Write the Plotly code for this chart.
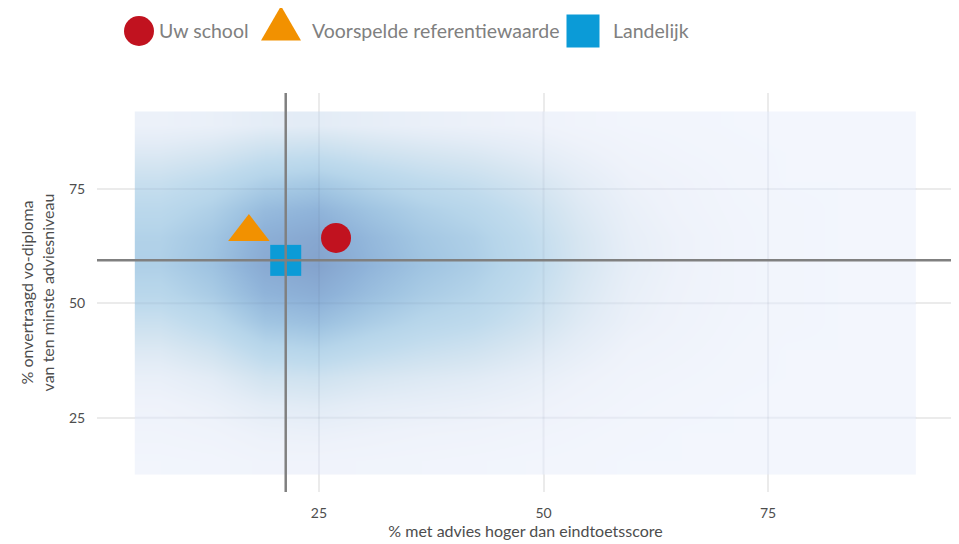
import plotly.graph_objects as go

# ---- data ----
school_x = [26.9]
school_y = [64.3]
pred_x = [17.2]
pred_y = [65.6]
land_x = [21.3]
land_y = [59.4]

# density grid (cell centres)
dens_x = [7.4, 13.2, 19.0, 24.8, 30.6, 36.4, 42.2, 48.0, 53.8, 59.6, 65.4, 71.2, 77.0, 82.8, 88.6]
dens_y = [15.6, 21.7, 27.8, 33.9, 40.0, 46.1, 52.2, 58.3, 64.5, 70.6, 76.7, 82.8, 88.9]
dens_z = [
    [0.03, 0.04, 0.07, 0.07, 0.06, 0.05, 0.04, 0.03, 0.02, 0.01, 0.01, 0.0, 0.0, 0.0, 0.0],
    [0.06, 0.08, 0.12, 0.13, 0.11, 0.09, 0.08, 0.06, 0.04, 0.02, 0.01, 0.01, 0.0, 0.0, 0.0],
    [0.09, 0.13, 0.20, 0.22, 0.18, 0.16, 0.14, 0.11, 0.07, 0.04, 0.02, 0.01, 0.0, 0.0, 0.0],
    [0.15, 0.21, 0.33, 0.35, 0.29, 0.25, 0.22, 0.17, 0.11, 0.06, 0.04, 0.02, 0.01, 0.0, 0.0],
    [0.25, 0.34, 0.51, 0.55, 0.46, 0.39, 0.34, 0.26, 0.17, 0.09, 0.06, 0.03, 0.01, 0.01, 0.0],
    [0.38, 0.50, 0.70, 0.75, 0.63, 0.53, 0.47, 0.36, 0.23, 0.13, 0.08, 0.04, 0.02, 0.01, 0.0],
    [0.52, 0.64, 0.84, 0.90, 0.76, 0.64, 0.56, 0.43, 0.27, 0.15, 0.09, 0.05, 0.02, 0.01, 0.0],
    [0.60, 0.72, 0.93, 1.00, 0.84, 0.71, 0.62, 0.48, 0.30, 0.17, 0.10, 0.05, 0.02, 0.01, 0.0],
    [0.58, 0.69, 0.89, 0.96, 0.81, 0.68, 0.60, 0.46, 0.29, 0.16, 0.10, 0.05, 0.02, 0.01, 0.0],
    [0.50, 0.60, 0.78, 0.84, 0.71, 0.60, 0.52, 0.40, 0.25, 0.14, 0.08, 0.04, 0.02, 0.01, 0.0],
    [0.39, 0.47, 0.60, 0.65, 0.55, 0.46, 0.40, 0.31, 0.20, 0.11, 0.07, 0.03, 0.01, 0.01, 0.0],
    [0.25, 0.30, 0.39, 0.42, 0.35, 0.30, 0.26, 0.20, 0.13, 0.07, 0.04, 0.02, 0.01, 0.0, 0.0],
    [0.12, 0.14, 0.19, 0.20, 0.17, 0.14, 0.12, 0.10, 0.06, 0.03, 0.02, 0.01, 0.0, 0.0, 0.0],
]

tick_vals = [25, 50, 75]
legend_labels = ["Uw school", "Voorspelde referentiewaarde", "Landelijk"]
x_title = "% met advies hoger dan eindtoetsscore"
y_title = "% onvertraagd vo-diploma<br>van ten minste adviesniveau"

RED = "#c1121f"
ORANGE = "#f29100"
BLUE = "#0b9bd7"
FONT = "Lato"

colorscale = [
    [0.0, "#f3f6fd"], [0.1, "#eef2fa"], [0.2, "#e3ecf6"], [0.3, "#d5e5f1"],
    [0.45, "#c0dbed"], [0.55, "#b6d5ea"], [0.7, "#a1c5e2"], [0.85, "#8fb3d9"],
    [1.0, "#84a3cd"],
]

fig = go.Figure()
fig.add_trace(go.Heatmap(x=dens_x, y=dens_y, z=dens_z, colorscale=colorscale,
                         zmin=0, zmax=1, zsmooth="best", showscale=False,
                         hoverinfo="skip"))
fig.add_trace(go.Scatter(x=school_x, y=school_y, mode="markers", showlegend=False,
                         marker=dict(symbol="circle", size=30, color=RED), name=legend_labels[0]))
fig.add_trace(go.Scatter(x=pred_x, y=pred_y, mode="markers", showlegend=False,
                         marker=dict(symbol="triangle-up", size=36, color=ORANGE), name=legend_labels[1]))
fig.add_trace(go.Scatter(x=land_x, y=land_y, mode="markers", showlegend=False,
                         marker=dict(symbol="square", size=31, color=BLUE), name=legend_labels[2]))

# heatmap extent derived from grid
hx0 = dens_x[0] - (dens_x[1] - dens_x[0]) / 2
hx1 = dens_x[-1] + (dens_x[1] - dens_x[0]) / 2
hy0 = dens_y[0] - (dens_y[1] - dens_y[0]) / 2
hy1 = dens_y[-1] + (dens_y[1] - dens_y[0]) / 2

shapes = []
# faint gridlines seen through the density
for t in tick_vals:
    shapes.append(dict(type="line", xref="x", yref="y", x0=t, x1=t, y0=hy0, y1=hy1,
                       line=dict(color="rgba(90,100,130,0.07)", width=2), layer="above"))
    shapes.append(dict(type="line", xref="x", yref="y", x0=hx0, x1=hx1, y0=t, y1=t,
                       line=dict(color="rgba(90,100,130,0.07)", width=2), layer="above"))

shapes += [
    dict(type="line", xref="x", yref="paper", x0=land_x[0], x1=land_x[0], y0=0, y1=1,
         line=dict(color="#808080", width=2.5), layer="above"),
    dict(type="line", xref="paper", yref="y", x0=0, x1=1, y0=land_y[0], y1=land_y[0],
         line=dict(color="#808080", width=2.5), layer="above"),
]

# custom legend (page pixel geometry -> paper coords)
L, R, T, B = 97, 954, 93, 492
def px(xp):
    return (xp - L) / (R - L)
def py(yp):
    return (B - yp) / (B - T)

shapes.append(dict(type="circle", xref="paper", yref="paper", xsizemode="pixel", ysizemode="pixel",
                   xanchor=px(139), yanchor=py(31), x0=-15, x1=15, y0=-15, y1=15,
                   fillcolor=RED, line=dict(width=0)))
shapes.append(dict(type="path", xref="paper", yref="paper", xsizemode="pixel", ysizemode="pixel",
                   xanchor=px(281), yanchor=py(29), path="M-20,-11.5 L20,-11.5 L0,23 Z",
                   fillcolor=ORANGE, line=dict(width=0)))
shapes.append(dict(type="rect", xref="paper", yref="paper", xsizemode="pixel", ysizemode="pixel",
                   xanchor=px(583), yanchor=py(31), x0=-16.5, x1=16.5, y0=-16.5, y1=16.5,
                   fillcolor=BLUE, line=dict(width=0)))

annotations = []
for lab, xl in zip(legend_labels, [157, 310, 611]):
    annotations.append(dict(text=lab, xref="paper", yref="paper", x=px(xl), y=py(31),
                            xanchor="left", yanchor="middle", showarrow=False,
                            font=dict(family=FONT, size=19.5, color="#808080")))

# page has an 8px body margin: figure is 951x536 placed at (8,8)
fig.update_layout(
    width=951, height=536, autosize=False,
    margin=dict(l=L - 8, r=951 - (R - 8), t=T - 8, b=536 - (B - 8), pad=0),
    plot_bgcolor="white", paper_bgcolor="white",
    font=dict(family=FONT, color="#4d4d4d"),
    shapes=shapes, annotations=annotations, showlegend=False,
)
fig.update_xaxes(range=[0.29, 95.7], tickvals=tick_vals, showgrid=True, gridcolor="#ebebeb",
                 gridwidth=2, zeroline=False, showline=False, ticks="outside", ticklen=8,
                 tickcolor="rgba(0,0,0,0)", tickfont=dict(size=14, color="#4d4d4d"),
                 title=dict(text=x_title, font=dict(size=16, color="#4d4d4d"), standoff=3))
fig.update_yaxes(range=[8.75, 96.0], tickvals=tick_vals, showgrid=True, gridcolor="#ebebeb",
                 gridwidth=2, zeroline=False, showline=False, ticks="outside", ticklen=8,
                 tickcolor="rgba(0,0,0,0)", tickfont=dict(size=14, color="#4d4d4d"),
                 title=dict(text=y_title, font=dict(size=16, color="#4d4d4d"), standoff=10))

fig.write_html("out.html")
